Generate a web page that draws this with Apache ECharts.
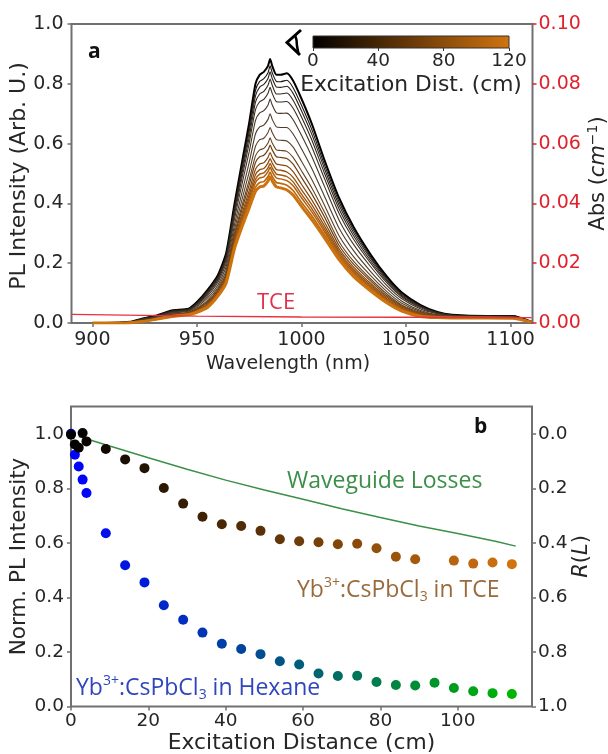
<!DOCTYPE html>
<html><head><meta charset="utf-8">
<style>html,body{margin:0;padding:0;background:#fff}#c{width:608px;height:754px}</style>
<script src="https://cdn.jsdelivr.net/npm/echarts@6/dist/echarts.min.js"></script>
</head><body><div id="c"></div>
<script>
const wavelengths=[900,910,918,924,930,938,946,950,955,960,964,968,972,975,978,980,982,984,985,986,988,990,993,996,1000,1005,1011,1018,1025,1033,1041,1048,1057,1065,1072,1089,1101,1110];
const spec01=[0,.001,.004,.015,.024,.042,.048,.070,.110,.160,.235,.400,.555,.670,.800,.830,.840,.860,.883,.860,.830,.830,.835,.810,.750,.665,.545,.418,.320,.230,.154,.102,.060,.037,.028,.023,.023,.004];
const spec02=[0,.001,.004,.014,.023,.041,.047,.068,.107,.156,.229,.391,.542,.653,.778,.808,.817,.837,.860,.837,.808,.807,.812,.787,.728,.646,.529,.405,.310,.223,.149,.098,.058,.036,.027,.023,.023,.004];
const spec03=[0,.001,.004,.014,.023,.040,.046,.066,.104,.152,.224,.384,.530,.639,.760,.789,.798,.818,.840,.818,.789,.788,.792,.768,.710,.630,.516,.394,.301,.217,.144,.095,.056,.035,.027,.022,.022,.004];
const spec04=[0,.001,.003,.013,.022,.039,.045,.064,.100,.148,.218,.375,.517,.622,.739,.766,.775,.795,.816,.795,.766,.766,.769,.745,.689,.611,.501,.381,.291,.209,.139,.091,.054,.034,.026,.022,.022,.004];
const spec05=[0,.001,.003,.013,.021,.037,.043,.062,.096,.143,.211,.364,.501,.602,.714,.740,.748,.768,.788,.768,.740,.739,.741,.718,.664,.588,.483,.366,.279,.201,.133,.087,.051,.032,.025,.022,.021,.004];
const spec06=[0,.001,.003,.012,.020,.035,.041,.058,.090,.136,.201,.349,.479,.573,.678,.703,.710,.729,.749,.729,.703,.701,.702,.680,.628,.556,.457,.344,.262,.189,.124,.081,.047,.031,.024,.021,.021,.004];
const spec07=[0,.001,.003,.010,.018,.033,.039,.054,.083,.127,.189,.330,.450,.537,.633,.656,.662,.681,.700,.681,.656,.654,.654,.632,.583,.516,.424,.317,.241,.173,.114,.073,.042,.028,.023,.020,.020,.004];
const spec08=[0,0,.002,.009,.017,.030,.036,.050,.076,.119,.177,.313,.425,.505,.591,.613,.618,.637,.654,.637,.613,.611,.609,.588,.541,.479,.394,.292,.221,.159,.104,.066,.038,.026,.022,.020,.019,.004];
const spec09=[0,0,.002,.008,.016,.029,.035,.047,.071,.113,.168,.300,.404,.479,.559,.579,.584,.602,.619,.602,.579,.577,.574,.554,.509,.451,.371,.272,.206,.148,.096,.060,.035,.024,.021,.019,.019,.003];
const spec10=[0,0,.002,.008,.015,.027,.033,.045,.068,.109,.162,.291,.391,.462,.537,.556,.561,.579,.595,.579,.556,.554,.550,.531,.487,.431,.355,.259,.196,.141,.090,.057,.032,.023,.020,.019,.018,.003];
const spec11=[0,0,.002,.007,.014,.026,.032,.043,.064,.104,.156,.281,.376,.443,.514,.532,.536,.554,.570,.554,.532,.529,.525,.506,.464,.411,.338,.248,.187,.133,.085,.053,.030,.022,.019,.018,.018,.003];
const spec12=[0,0,.001,.007,.014,.025,.031,.041,.061,.101,.151,.273,.365,.429,.496,.513,.517,.535,.550,.535,.513,.511,.505,.487,.446,.395,.325,.240,.179,.127,.080,.050,.028,.021,.019,.018,.017,.003];
const spec13=[0,0,.001,.006,.013,.024,.030,.040,.059,.098,.147,.267,.356,.418,.481,.498,.502,.519,.534,.519,.498,.495,.490,.472,.431,.382,.315,.233,.173,.122,.077,.047,.026,.020,.018,.018,.017,.003];
const spec14=[0,0,.001,.006,.013,.024,.030,.039,.057,.096,.143,.262,.348,.408,.469,.485,.489,.506,.521,.506,.485,.482,.476,.459,.419,.371,.306,.226,.167,.118,.074,.045,.025,.020,.018,.017,.017,.003];
const spec15=[0,0,.001,.005,.012,.023,.029,.037,.054,.093,.139,.256,.339,.396,.454,.470,.473,.490,.505,.490,.470,.467,.461,.443,.404,.358,.295,.220,.161,.113,.070,.042,.024,.019,.018,.017,.016,.003];
const spec16=[0,0,.001,.005,.012,.022,.028,.036,.052,.090,.135,.250,.330,.385,.440,.455,.458,.475,.489,.475,.455,.452,.445,.428,.390,.345,.285,.212,.155,.108,.067,.040,.022,.018,.017,.017,.016,.003];
const spectra=[spec01,spec02,spec03,spec04,spec05,spec06,spec07,spec08,spec09,spec10,spec11,spec12,spec13,spec14,spec15,spec16];
const specColors=['#000000','#1c1410','#2a2018','#30261c','#3a2e22','#443626','#4d3c2a','#5a4228','#65451f','#733f10','#854812','#93500f','#a3580f','#b05f0d','#bd680e','#cc720f'];
const specWidths=[2,1.1,1.1,1.1,1.1,1.1,1.1,1.1,1.1,1.2,1.2,1.3,1.4,1.5,1.7,3];
const absWave=[890,950,1000,1050,1110];
const absTce=[.0029,.0023,.0020,.0019,.0018];
const distTce=[0,1,2,3,4,9,14,19,24,29,34,39,44,49,54,59,64,69,74,79,84,89,99,104,109,114];
const normTce=[.997,.961,.949,1.003,.972,.944,.906,.874,.801,.744,.696,.668,.662,.644,.613,.606,.602,.595,.597,.58,.549,.54,.535,.524,.528,.522];
const distHex=[0,1,2,3,4,9,14,19,24,29,34,39,44,49,54,59,64,69,74,79,84,89,94,99,104,109,114];
const normHex=[1.0,.923,.88,.832,.783,.635,.518,.455,.371,.318,.271,.23,.211,.192,.166,.154,.121,.112,.113,.09,.079,.077,.087,.068,.056,.049,.046];
const lossDist=[2,10,20,30,40,50,60,70,80,90,100,110,115];
const lossVal=[.99,.955,.912,.87,.83,.794,.76,.725,.693,.662,.634,.605,.588];
const ticksWave=[900,950,1000,1050,1100];
const ticksDist=[0,20,40,60,80,100];
const ticksNorm=[0,.2,.4,.6,.8,1];

const FONT='"DejaVu Sans"', LAB='"Open Sans"';
const INK='#262626', SPINE='#707070', RED='#e0222c';
const chart=echarts.init(document.getElementById('c'),null,{renderer:'canvas'});
const zip=(a,b)=>a.map((v,i)=>[v,b[i]]);
const lab=(extra)=>Object.assign({color:INK,fontFamily:FONT,fontSize:19},extra||{});
const tick=(c)=>({show:true,length:4,inside:false,lineStyle:{color:c||SPINE,width:1.5}});
const f1=v=>v.toFixed(1);

const series=spectra.map((s,i)=>({type:'line',xAxisIndex:0,yAxisIndex:0,data:zip(wavelengths,s),symbol:'none',smooth:.2,
  lineStyle:{color:specColors[i],width:specWidths[i]},z:2+i*0.01,silent:true}));
series.push({type:'line',xAxisIndex:0,yAxisIndex:1,data:zip(absWave,absTce),symbol:'none',lineStyle:{color:'#e8303c',width:1.4},z:3});
series.push({type:'line',xAxisIndex:1,yAxisIndex:3,data:zip(lossDist,lossVal.map(v=>1-v)),symbol:'none',lineStyle:{color:'#3c8f48',width:1.5},z:2});
const hexIdx=series.length;
series.push({type:'scatter',xAxisIndex:1,yAxisIndex:2,data:zip(distHex,normHex),symbolSize:10,itemStyle:{opacity:1},z:3});
const tceIdx=series.length;
series.push({type:'scatter',xAxisIndex:1,yAxisIndex:2,data:zip(distTce,normTce),symbolSize:10,itemStyle:{opacity:1},z:4});

function annot(x,cy,text,color,size){
  const base={fontFamily:LAB,fontSize:size,color:color,lineHeight:28,verticalAlign:'middle'};
  return {type:'text',left:x,top:cy-14,z:20,style:{text:text,fill:color,font:size+'px '+LAB,lineHeight:28,
    rich:{n:base,s:Object.assign({},base,{fontSize:14,verticalAlign:'top'}),u:Object.assign({},base,{fontSize:14,verticalAlign:'bottom'})}}};
}

chart.setOption({
  animation:false,backgroundColor:'#fff',
  grid:[
    {left:71.5,top:24,width:461,height:299,outerBoundsMode:'none',show:true,borderColor:SPINE,borderWidth:2,backgroundColor:'transparent'},
    {left:71,top:406.5,width:461,height:300,outerBoundsMode:'none',show:true,borderColor:SPINE,borderWidth:2,backgroundColor:'transparent'},
    {left:313,top:36,width:196,height:12,outerBoundsMode:'none',show:true,borderColor:'#333',borderWidth:1,
     backgroundColor:new echarts.graphic.LinearGradient(0,0,1,0,[{offset:0,color:'#000000'},{offset:1,color:'#d2730f'}])}
  ],
  xAxis:[
    {gridIndex:0,type:'value',min:890,max:1110.5,axisLine:{show:false},splitLine:{show:false},
     axisTick:Object.assign(tick(),{customValues:ticksWave}),
     axisLabel:lab({customValues:ticksWave,margin:8,formatter:v=>String(v)}),
     name:'Wavelength (nm)',nameLocation:'middle',nameGap:32,nameTextStyle:lab({fontSize:19,padding:[0,28,0,0]})},
    {gridIndex:1,type:'value',min:0,max:119.2,axisLine:{show:false},splitLine:{show:false},
     axisTick:Object.assign(tick(),{customValues:ticksDist}),
     axisLabel:lab({customValues:ticksDist,margin:5,fontSize:18.5}),
     name:'Excitation Distance (cm)',nameLocation:'middle',nameGap:26,nameTextStyle:lab({fontSize:21.8})},
    {gridIndex:2,type:'value',min:0,max:120,interval:40,axisLine:{show:false},splitLine:{show:false},
     axisTick:{show:true,length:3,lineStyle:{color:'#333',width:1}},
     axisLabel:lab({fontSize:18.5,margin:4}),
     name:'Excitation Dist. (cm)',nameLocation:'middle',nameGap:26,nameTextStyle:lab({fontSize:21.8})}
  ],
  yAxis:[
    {gridIndex:0,type:'value',min:0,max:1,interval:.2,axisLine:{show:false},splitLine:{show:false},axisTick:tick(),
     axisLabel:lab({formatter:f1,margin:8}),
     name:'PL Intensity (Arb. U.)',nameLocation:'middle',nameGap:41,nameMoveOverlap:false,nameTextStyle:lab({fontSize:22,padding:[0,5,0,0]})},
    {gridIndex:0,type:'value',position:'right',min:0,max:.1,interval:.02,axisLine:{show:false},splitLine:{show:false},axisTick:tick(RED),
     axisLabel:lab({color:RED,formatter:v=>v.toFixed(2),margin:6}),
     name:'{a|Abs (}{i|cm}{s|−1}{a|)}',nameLocation:'middle',nameGap:54,nameRotate:90,nameMoveOverlap:false,
     nameTextStyle:{rich:{a:lab({fontSize:21,lineHeight:24}),i:lab({fontSize:21,fontStyle:'italic',lineHeight:24}),s:lab({fontSize:14,verticalAlign:'top',lineHeight:24})}}},
    {gridIndex:1,type:'value',min:0,max:1.1,axisLine:{show:false},splitLine:{show:false},
     axisTick:Object.assign(tick(),{customValues:ticksNorm}),
     axisLabel:lab({customValues:ticksNorm,formatter:f1,margin:7,fontSize:18.5}),
     name:'Norm. PL Intensity',nameLocation:'middle',nameGap:41,nameMoveOverlap:false,nameTextStyle:lab({fontSize:21.5})},
    {gridIndex:1,type:'value',position:'right',inverse:true,min:-.1,max:1,axisLine:{show:false},splitLine:{show:false},
     axisTick:Object.assign(tick(),{customValues:ticksNorm}),
     axisLabel:lab({customValues:ticksNorm,formatter:f1,margin:6,fontSize:18.5}),
     name:'{i|R}{a|(}{i|L}{a|)}',nameLocation:'middle',nameGap:39,nameRotate:90,nameMoveOverlap:false,
     nameTextStyle:{rich:{a:lab({fontSize:21}),i:lab({fontSize:21,fontStyle:'italic'})}}},
    {gridIndex:2,type:'value',min:0,max:1,show:false}
  ],
  visualMap:[
    {show:false,type:'continuous',seriesIndex:hexIdx,dimension:0,min:0,max:114,inRange:{color:['#0000ff','#00b400']}},
    {show:false,type:'continuous',seriesIndex:tceIdx,dimension:0,min:0,max:114,inRange:{color:['#000000','#d2730f']}}
  ],
  series:series,
  graphic:[
    {type:'polyline',z:20,shape:{points:[[301,30],[287,42.5],[300,55]]},style:{stroke:'#000',lineWidth:3,fill:'none'}},
    {type:'polyline',z:20,shape:{points:[[295,35],[296.5,40],[297,46],[298.5,54]]},style:{stroke:'#000',lineWidth:2.5,fill:'none'}},
    {type:'text',left:88,top:42,z:20,style:{text:'a',fill:'#111',font:'bold 21px '+LAB}},
    {type:'text',left:474,top:417,z:20,style:{text:'b',fill:'#111',font:'bold 21px '+LAB}},
    annot(257,303,'TCE','#e0304a',22),
    annot(287,481,'Waveguide Losses','#3b8f48',23),
    annot(297,590,'{n|Yb}{s|3+}{n|:CsPbCl}{u|3}{n| in TCE}','#9a6a3c',23),
    annot(76,688,'{n|Yb}{s|3+}{n|:CsPbCl}{u|3}{n| in Hexane}','#2f46bc',23)
  ]
});
</script></body></html>
